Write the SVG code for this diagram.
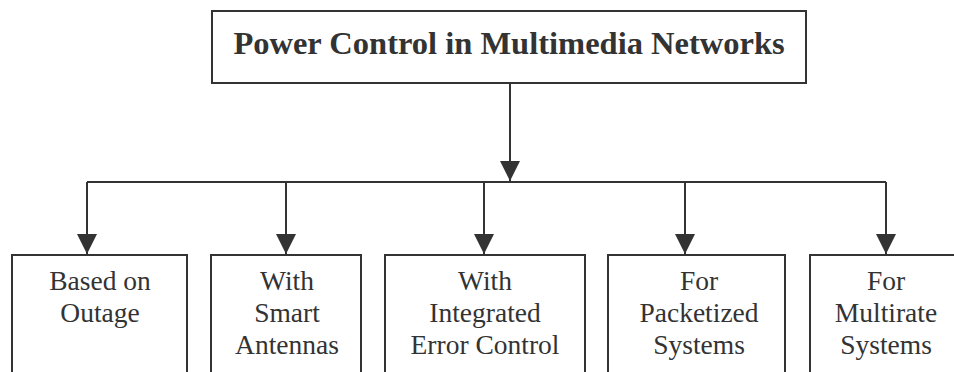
<svg xmlns="http://www.w3.org/2000/svg" width="954" height="372" viewBox="0 0 954 372">
<defs>
<style>
.box{fill:#fff;stroke:#333;stroke-width:2}
.ln{fill:none;stroke:#333;stroke-width:2}
.t{font-family:"Liberation Serif","Times New Roman",serif;font-size:27.5px;fill:#333;text-anchor:middle}
.title{font-family:"Liberation Serif","Times New Roman",serif;font-size:32.5px;font-weight:bold;fill:#333;text-anchor:middle}
</style>
<marker id="ah" viewBox="0 0 20 20" refX="20" refY="10" markerWidth="20" markerHeight="20" markerUnits="userSpaceOnUse" orient="auto">
<path d="M0,0 L20,10 L0,20 Z" fill="#333"/>
</marker>
</defs>
<rect width="954" height="372" fill="#fff"/>
<g id="connectors">
<line class="ln" x1="510" y1="83" x2="510" y2="181" marker-end="url(#ah)"/>
<line class="ln" x1="87" y1="182" x2="886" y2="182"/>
<line class="ln" x1="87" y1="182" x2="87" y2="254" marker-end="url(#ah)"/>
<line class="ln" x1="286" y1="182" x2="286" y2="254" marker-end="url(#ah)"/>
<line class="ln" x1="484" y1="182" x2="484" y2="254" marker-end="url(#ah)"/>
<line class="ln" x1="685" y1="182" x2="685" y2="254" marker-end="url(#ah)"/>
<line class="ln" x1="886" y1="182" x2="886" y2="254" marker-end="url(#ah)"/>
</g>
<g id="root">
<rect class="box" x="212" y="11" width="594" height="72"/>
<text class="title" x="509" y="54">Power Control in Multimedia Networks</text>
</g>
<g id="n1">
<rect class="box" x="12" y="255" width="175" height="130"/>
<text class="t" x="100" y="290">Based on</text>
<text class="t" x="100" y="322">Outage</text>
</g>
<g id="n2">
<rect class="box" x="211" y="255" width="150" height="130"/>
<text class="t" x="287" y="290">With</text>
<text class="t" x="287" y="322">Smart</text>
<text class="t" x="287" y="354">Antennas</text>
</g>
<g id="n3">
<rect class="box" x="385" y="255" width="200" height="130"/>
<text class="t" x="485" y="290">With</text>
<text class="t" x="485" y="322">Integrated</text>
<text class="t" x="485" y="354">Error Control</text>
</g>
<g id="n4">
<rect class="box" x="608" y="255" width="177" height="130"/>
<text class="t" x="699" y="290">For</text>
<text class="t" x="699" y="322">Packetized</text>
<text class="t" x="699" y="354">Systems</text>
</g>
<g id="n5">
<rect class="box" x="810" y="255" width="152" height="130"/>
<text class="t" x="886" y="290">For</text>
<text class="t" x="886" y="322">Multirate</text>
<text class="t" x="886" y="354">Systems</text>
</g>
</svg>
